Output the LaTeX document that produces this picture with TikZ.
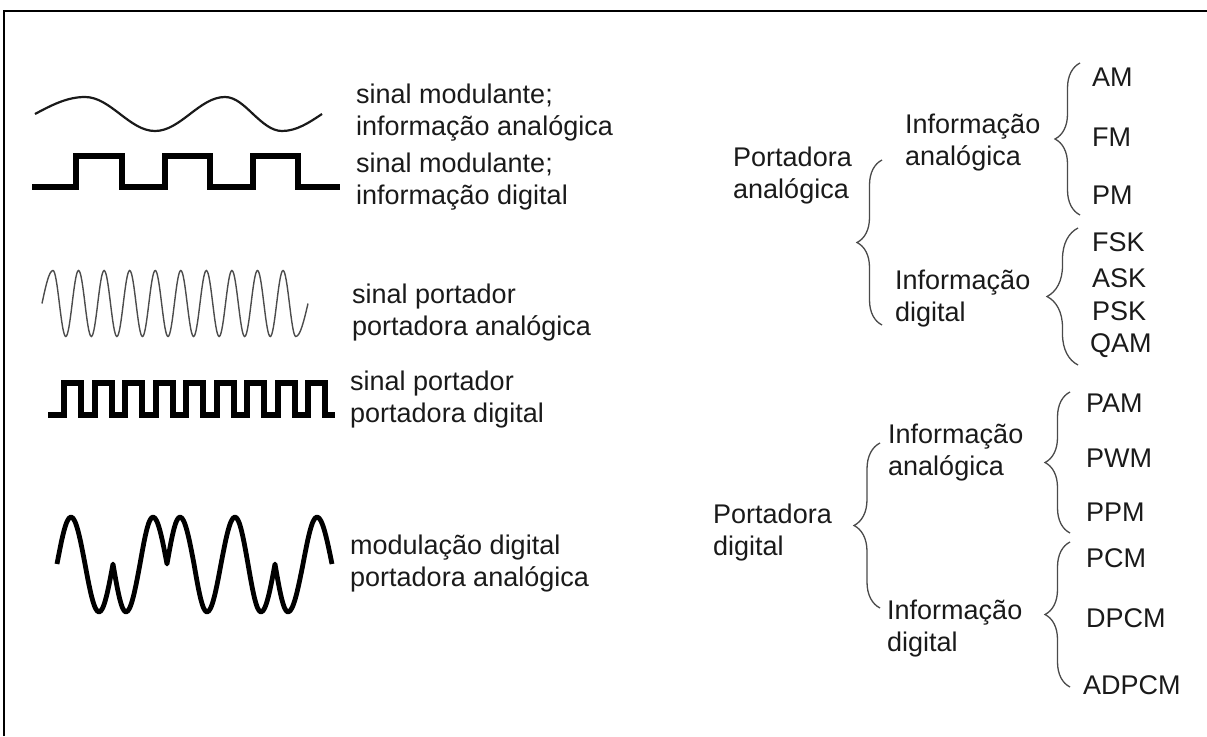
\documentclass[tikz,border=0pt]{standalone}
\usepackage{fontspec}
\setmainfont{Liberation Sans}
\usetikzlibrary{positioning,decorations.pathreplacing}
\definecolor{inkgray}{HTML}{1A1A1A}
\definecolor{bracegray}{HTML}{4A4A4A}

\tikzset{
  lbl/.style={anchor=west, inner sep=0pt, align=left, text=inkgray, font=\fontsize{27}{32}\selectfont},
  leaf/.style={anchor=west, inner sep=0pt, text=inkgray, font=\fontsize{27}{32}\selectfont},
  curly/.style={decorate, decoration={brace, amplitude=#1}, draw=bracegray, line width=1.3pt},
  sinewave/.style={line width=2.2pt, draw=inkgray},
  squarewave/.style={line width=6pt, draw=black},
  carrierwave/.style={line width=1.4pt, draw=black!70},
  pskwave/.style={line width=4.8pt, draw=black, line join=round},
  frameline/.style={line width=2.5pt, draw=black}
}

\begin{document}
\begin{tikzpicture}[x=1pt, y=-1pt]
\useasboundingbox (0,0) rectangle (1207,736);
\draw[frameline] (4,736) -- (4,11) -- (1207,11);

% left column: waveforms
\draw[sinewave] (35,114) sin (85,97) cos (120,114) sin (155,131) cos (190,114)
  sin (225,97) cos (253,114) sin (282,131) cos (322,114);
\draw[squarewave] (32,186.5) -| (76,155.5) -| (121.5,186.5) -| (165,155.5)
  -| (210,186.5) -| (253,155.5) -| (298,186.5) -- (340,186.5);
\draw[carrierwave] (42,303.5) sin (53,270.5)
  foreach \k in {1,...,9} { cos ++(6.39,33) sin ++(6.39,33) cos ++(6.39,-33) sin ++(6.39,-33) }
  cos ++(6.39,33) sin ++(6.39,33) cos (308,303.5);
\draw[squarewave] (48,415) -| ++(16,-32.5)
  foreach \k in {1,...,8} { -| ++(17,32.5) -| ++(13.5,-32.5) }
  -| ++(17,32.5) -- (335,415);
\draw[pskwave] (57,564) sin (71,517) cos (85,564) sin (99,612) cos (113,564)
  sin (126,612) cos (140,564) sin (153,517) cos (167,564) sin (180,517)
  cos (194,564) sin (207,612) cos (221,564) sin (235,517) cos (248,564)
  sin (261,612) cos (275,564) sin (288,612) cos (303,564) sin (317,517) cos (332,564);

% left column: labels
\node[lbl] (modA) at (356,113) {sinal modulante;\\informação analógica};
\node[lbl] (modD) at (356,182) {sinal modulante;\\informação digital};
\node[lbl] (carA) at (352,313) {sinal portador\\portadora analógica};
\node[lbl] (carD) at (350,400) {sinal portador\\portadora digital};
\node[lbl] (psk) at (350,564) {modulação digital\\portadora analógica};

% right column: analog carrier
\node[lbl] (portA) at (733,176) {Portadora\\analógica};
\node[lbl] (infAA) at (905,143) {Informação\\analógica};
\node[lbl] (infAD) at (895,299) {Informação\\digital};
\node[leaf] (am) at (1092,77) {AM};
\node[leaf] (fm) at (1092,137) {FM};
\node[leaf] (pm) at (1092,195) {PM};
\node[leaf] (fsk) at (1092,242) {FSK};
\node[leaf] (ask) at (1092,278) {ASK};
\node[leaf] (psk2) at (1092,311) {PSK};
\node[leaf] (qam) at (1090,346) {QAM};

% right column: digital carrier
\node[lbl] (portD) at (713,533) {Portadora\\digital};
\node[lbl] (infDA) at (888,453) {Informação\\analógica};
\node[lbl] (infDD) at (887,629) {Informação\\digital};
\node[leaf] (pam) at (1086,403) {PAM};
\node[leaf] (pwm) at (1086,458) {PWM};
\node[leaf] (ppm) at (1086,512) {PPM};
\node[leaf] (pcm) at (1086,558) {PCM};
\node[leaf] (dpcm) at (1086,618) {DPCM};
\node[leaf] (adpcm) at (1083,685) {ADPCM};

% braces
\coordinate (b1t) at (882,160); \coordinate (b1b) at (882,325);
\coordinate (b2t) at (1080,63); \coordinate (b2b) at (1080,215);
\coordinate (b3t) at (1078,228); \coordinate (b3b) at (1078,365);
\coordinate (b4t) at (880,443); \coordinate (b4b) at (880,608);
\coordinate (b5t) at (1070,392); \coordinate (b5b) at (1070,533);
\coordinate (b6t) at (1070,542); \coordinate (b6b) at (1070,687);
\draw[curly=25pt] (b1b) -- (b1t);
\draw[curly=25pt] (b2b) -- (b2t);
\draw[curly=31pt] (b3b) -- (b3t);
\draw[curly=26pt] (b4b) -- (b4t);
\draw[curly=25pt] (b5b) -- (b5t);
\draw[curly=25pt] (b6b) -- (b6t);
\end{tikzpicture}
\end{document}
